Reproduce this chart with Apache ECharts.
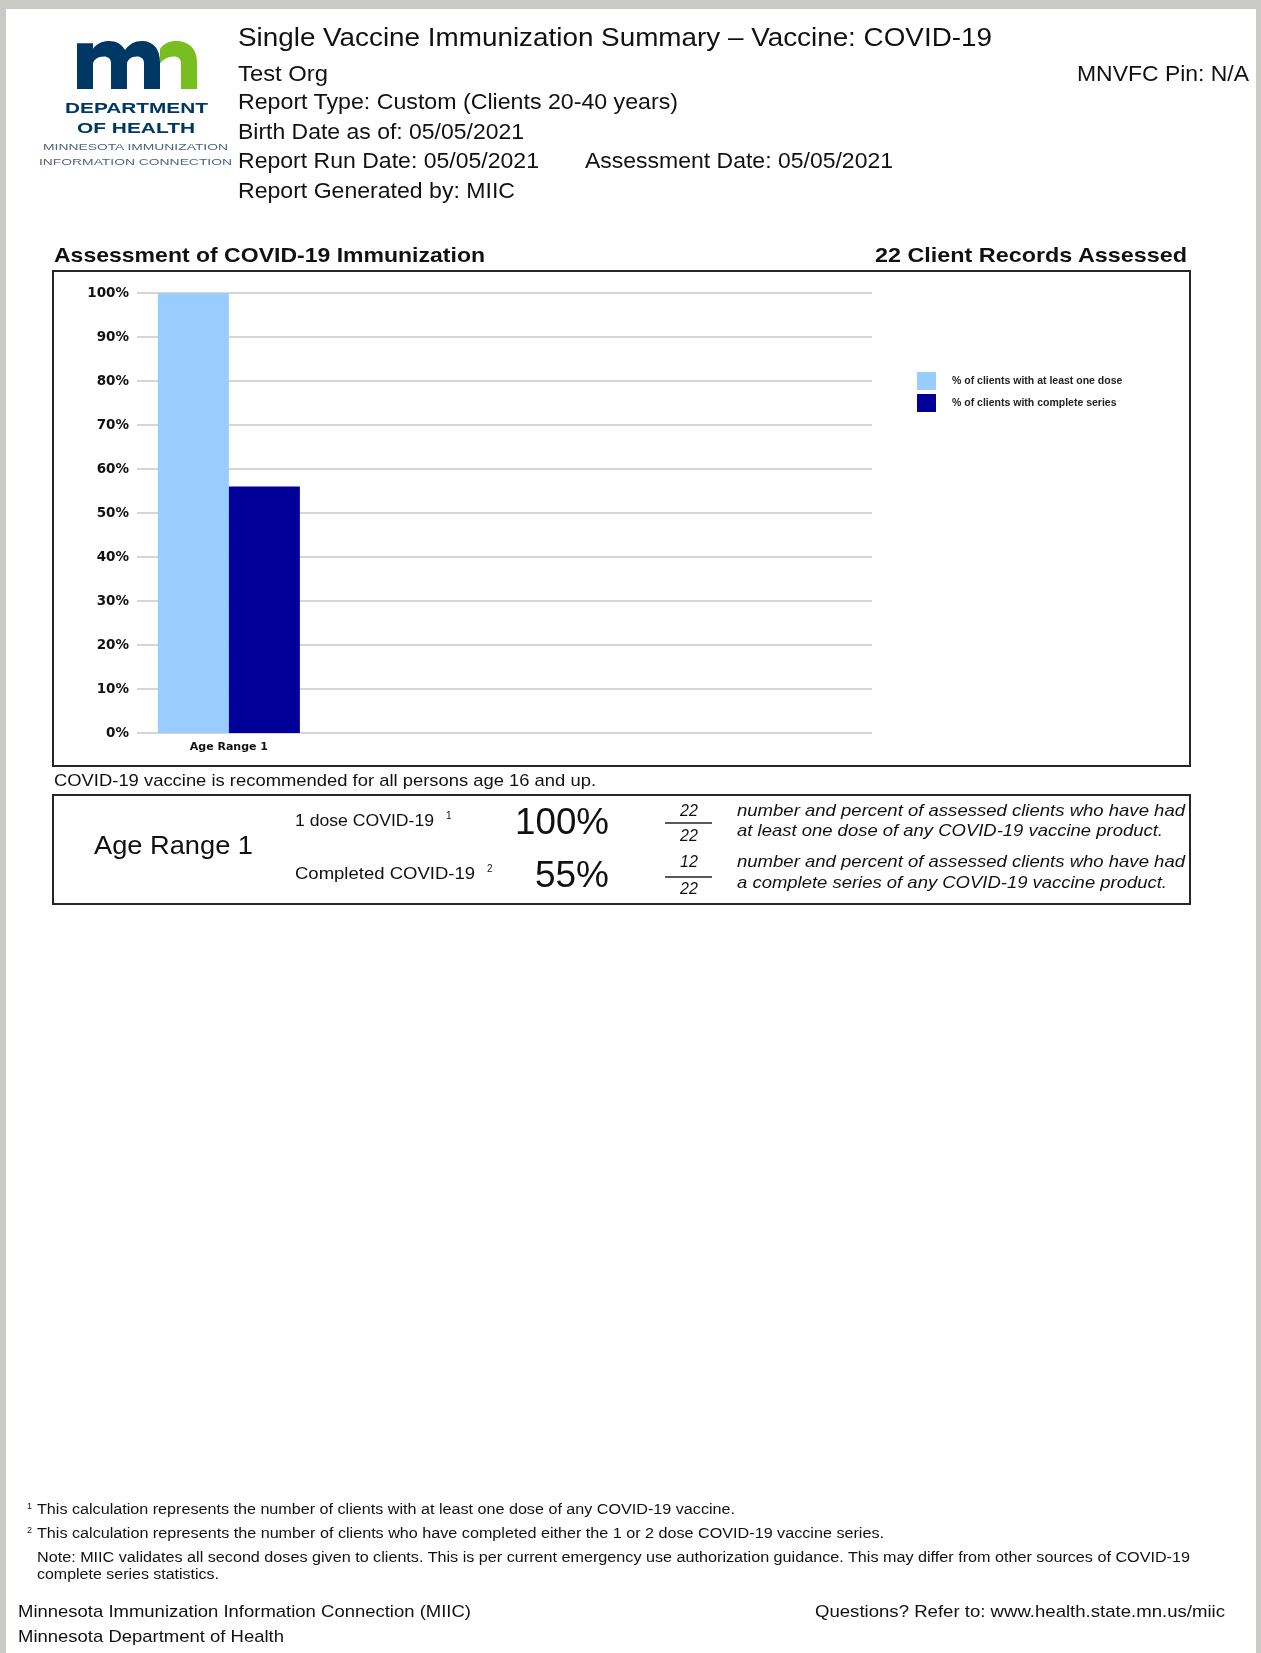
<!DOCTYPE html>
<html><head><meta charset="utf-8">
<script src="https://cdn.jsdelivr.net/npm/echarts/dist/echarts.min.js"></script>
<style>
html,body{margin:0;padding:0;}
body{width:1261px;height:1653px;background:#c9c9c5;position:relative;overflow:hidden;font-family:"Liberation Sans",Arial,sans-serif;}
#page{position:absolute;left:6px;top:9px;width:1250px;height:1644px;background:#fff;}
#chart{position:absolute;left:52px;top:270px;width:1139px;height:497px;}
.box{position:absolute;border:2px solid #262626;box-sizing:border-box;}
#ov{position:absolute;left:0;top:0;}
</style></head>
<body>
<div id="page"></div>
<div id="chart"></div>
<div class="box" style="left:52px;top:270px;width:1139px;height:497px;"></div>
<div class="box" style="left:52px;top:794px;width:1139px;height:111px;"></div>
<svg id="ov" width="1261" height="1653" xmlns="http://www.w3.org/2000/svg">
  <g transform="translate(0,41) scale(1,1.116) translate(0,-43)">
  <path fill="#003865" d="M77,86 L77,45 L93,45 L93,50 C97,45 103,43 109,43 C116,43 122,46 125,51 C129,46 135,43 142,43 C153,43 160,50 160,62 L160,86 L144,86 L144,63 C144,59 141,57 137,57 C131,57 127,60 127,64 L127,86 L111,86 L111,63 C111,59 108,57 104,57 C98,57 93,60 93,64 L93,86 Z"/>
  <path fill="#78BE21" d="M160,50 C164,45 170,43 176,43 C189,43 197,50 197,62 L197,86 L181,86 L181,63 C181,59 178,57 174,57 C168,57 163,60 160,63 Z"/>
  </g>
  <line x1="665" y1="823" x2="712" y2="823" stroke="#222" stroke-width="1.5"/>
  <line x1="665" y1="877" x2="712" y2="877" stroke="#222" stroke-width="1.5"/>
</svg>
<script>
// ---- data ----
const categories = ['Age Range 1', '', '', ''];
const seriesNames = ['% of clients with at least one dose', '% of clients with complete series'];
const oneDose = [100, null, null, null];
const completeSeries = [56, null, null, null];
const yMin = 0, yMax = 100, yStep = 10;
const tableLabels = ['1 dose COVID-19', 'Completed COVID-19'];
const tablePercents = ['100%', '55%'];
const tableNumerators = ['22', '12'];
const tableDenominators = ['22', '22'];
const recordsAssessed = 22;

// ---- text helper ----
const svgNS = 'http://www.w3.org/2000/svg';
const ov = document.getElementById('ov');
function T(x, y, s, size, o) {
  o = o || {};
  const e = document.createElementNS(svgNS, 'text');
  e.setAttribute('x', x); e.setAttribute('y', y);
  e.setAttribute('font-size', size);
  e.setAttribute('font-family', o.ff || "'Liberation Sans', Arial, sans-serif");
  if (o.w) { e.setAttribute('textLength', o.w); e.setAttribute('lengthAdjust', 'spacingAndGlyphs'); }
  if (o.bold) e.setAttribute('font-weight', 'bold');
  if (o.italic) e.setAttribute('font-style', 'italic');
  if (o.anchor) e.setAttribute('text-anchor', o.anchor);
  e.setAttribute('fill', o.fill || '#111');
  e.textContent = s; ov.appendChild(e);
}
// logo text
T(65, 113, 'DEPARTMENT', 15, {bold: true, w: 143, fill: '#003865'});
T(77, 133, 'OF HEALTH', 15, {bold: true, w: 118, fill: '#003865'});
T(43, 150, 'MINNESOTA IMMUNIZATION', 8.5, {w: 185, fill: '#4f6580'});
T(39, 165, 'INFORMATION CONNECTION', 8.5, {w: 193, fill: '#4f6580'});
// header
T(238, 46, 'Single Vaccine Immunization Summary \u2013 Vaccine: COVID-19', 26, {w: 754});
T(238, 81, 'Test Org', 22, {w: 90});
T(1249, 81, 'MNVFC Pin: N/A', 22, {w: 172, anchor: 'end'});
T(238, 109, 'Report Type: Custom (Clients 20-40 years)', 22, {w: 440});
T(238, 139, 'Birth Date as of: 05/05/2021', 22, {w: 286});
T(238, 168, 'Report Run Date: 05/05/2021', 22, {w: 301});
T(585, 168, 'Assessment Date: 05/05/2021', 22, {w: 308});
T(238, 198, 'Report Generated by: MIIC', 22, {w: 277});
// chart titles
T(54, 262, 'Assessment of COVID-19 Immunization', 21, {bold: true, w: 431});
T(1187, 262, recordsAssessed + ' Client Records Assessed', 21, {bold: true, w: 312, anchor: 'end'});
T(54, 786, 'COVID-19 vaccine is recommended for all persons age 16 and up.', 17, {w: 542});
// table
T(94, 854, 'Age Range 1', 26, {w: 159});
T(295, 826, tableLabels[0], 17, {w: 139});
T(446, 819, '1', 10);
T(295, 879, tableLabels[1], 17, {w: 180});
T(487, 872, '2', 10);
T(609, 834, tablePercents[0], 36, {anchor: 'end', w: 94});
T(609, 887, tablePercents[1], 36, {anchor: 'end', w: 74});
T(689, 816, tableNumerators[0], 16, {anchor: 'middle', italic: true});
T(689, 841, tableDenominators[0], 16, {anchor: 'middle', italic: true});
T(689, 867, tableNumerators[1], 16, {anchor: 'middle', italic: true});
T(689, 894, tableDenominators[1], 16, {anchor: 'middle', italic: true});
T(737, 816, 'number and percent of assessed clients who have had', 17, {italic: true, w: 448});
T(737, 836, 'at least one dose of any COVID-19 vaccine product.', 17, {italic: true, w: 426});
T(737, 867, 'number and percent of assessed clients who have had', 17, {italic: true, w: 448});
T(737, 888, 'a complete series of any COVID-19 vaccine product.', 17, {italic: true, w: 430});
// footnotes
T(27, 1509, '1', 9);
T(37, 1514, 'This calculation represents the number of clients with at least one dose of any COVID-19 vaccine.', 14, {w: 698});
T(27, 1533, '2', 9);
T(37, 1538, 'This calculation represents the number of clients who have completed either the 1 or 2 dose COVID-19 vaccine series.', 14, {w: 847});
T(37, 1562, 'Note: MIIC validates all second doses given to clients. This is per current emergency use authorization guidance. This may differ from other sources of COVID-19', 14, {w: 1153});
T(37, 1579, 'complete series statistics.', 14, {w: 182});
T(18, 1617, 'Minnesota Immunization Information Connection (MIIC)', 17, {w: 453});
T(1225, 1617, 'Questions? Refer to: www.health.state.mn.us/miic', 17, {w: 410, anchor: 'end'});
T(18, 1642, 'Minnesota Department of Health', 17, {w: 266});

// ---- chart ----
const chart = echarts.init(document.getElementById('chart'), null, {renderer: 'canvas'});
chart.setOption({
  animation: false,
  grid: {left: 85, top: 23, width: 735, height: 440, containLabel: false, outerBoundsMode: 'none'},
  legend: {
    orient: 'vertical', left: 865, top: 102, itemWidth: 19, itemHeight: 18, itemGap: 4, padding: 0, icon: 'rect',
    textStyle: {fontFamily: 'Liberation Sans', fontWeight: 'bold', fontSize: 10.5, color: '#222', padding: [0, 0, 0, 11]},
    data: seriesNames
  },
  xAxis: {
    type: 'category', data: categories,
    axisLine: {show: false}, axisTick: {show: false},
    axisLabel: {fontFamily: 'DejaVu Sans', fontWeight: 'bold', fontSize: 11, color: '#111', margin: 9, interval: 0}
  },
  yAxis: {
    type: 'value', min: yMin, max: yMax, interval: yStep,
    axisLine: {show: false}, axisTick: {show: false},
    axisLabel: {formatter: '{value}%', fontFamily: 'DejaVu Sans', fontWeight: 'bold', fontSize: 13.5, color: '#111', margin: 8},
    splitLine: {lineStyle: {color: '#d6d6d6', width: 2}}
  },
  series: [
    {name: seriesNames[0], type: 'bar', data: oneDose, barWidth: 71, barGap: '0%', itemStyle: {color: '#99CCFF'}},
    {name: seriesNames[1], type: 'bar', data: completeSeries, barWidth: 71, barGap: '0%', itemStyle: {color: '#000099'}}
  ]
});
</script>
</body></html>
